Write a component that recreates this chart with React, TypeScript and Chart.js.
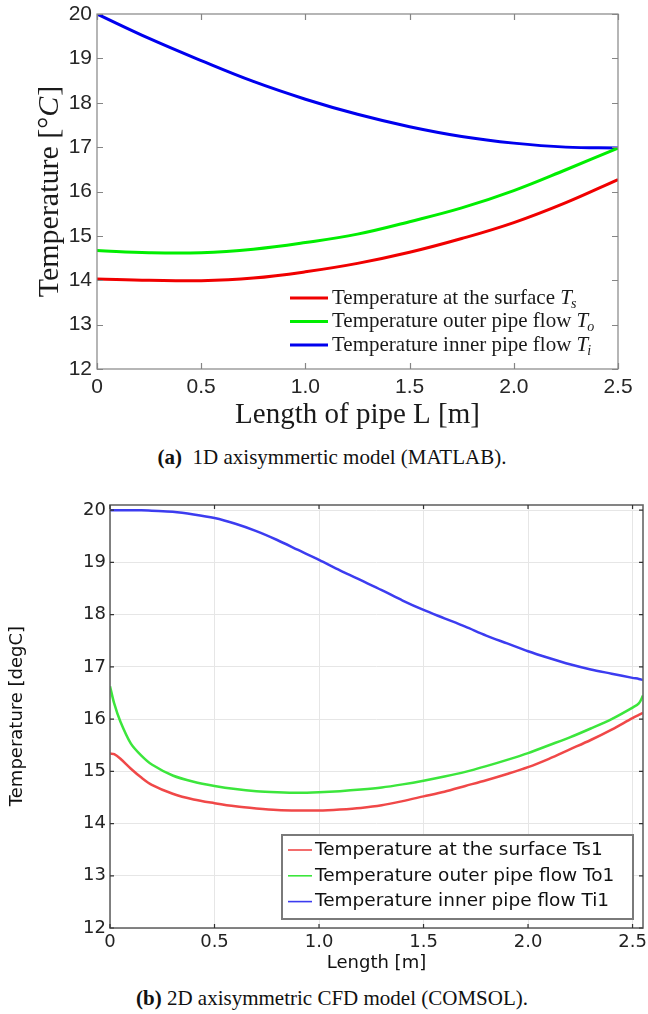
import React, { useEffect, useRef } from 'react';
import { Chart, registerables } from 'chart.js';
Chart.register(...registerables);

// ---------- Data: (a) 1D axisymmetric model (MATLAB) ----------
const xA = [0, 0.25, 0.5, 0.75, 1.0, 1.25, 1.5, 1.75, 2.0, 2.25, 2.5];
const surfaceA = [14.03, 14.0, 13.99, 14.05, 14.19, 14.38, 14.63, 14.94, 15.3, 15.75, 16.27];
const outerA = [14.67, 14.62, 14.62, 14.7, 14.85, 15.04, 15.32, 15.63, 16.02, 16.49, 16.98];
const innerA = [20, 19.45, 18.95, 18.48, 18.08, 17.74, 17.46, 17.24, 17.09, 17.0, 16.98];
const labelsA = ['Temperature at the surface', 'Temperature outer pipe flow', 'Temperature inner pipe flow'];
const subsA = ['s', 'o', 'i'];

// ---------- Data: (b) 2D axisymmetric CFD model (COMSOL) ----------
const xB = [0, 0.02, 0.05, 0.1, 0.15, 0.2, 0.3, 0.4, 0.5, 0.6, 0.7, 0.8, 0.9, 1.0, 1.1, 1.2, 1.3, 1.4, 1.5, 1.6, 1.7, 1.8, 1.9, 2.0, 2.1, 2.2, 2.3, 2.4, 2.5, 2.53, 2.55];
const surfaceB = [15.34, 15.33, 15.24, 15.05, 14.88, 14.74, 14.57, 14.46, 14.39, 14.33, 14.29, 14.26, 14.25, 14.25, 14.27, 14.3, 14.35, 14.43, 14.52, 14.61, 14.72, 14.83, 14.95, 15.08, 15.24, 15.42, 15.6, 15.8, 16.02, 16.08, 16.12];
const outerB = [16.63, 16.3, 15.95, 15.53, 15.3, 15.13, 14.92, 14.8, 14.72, 14.66, 14.62, 14.6, 14.59, 14.6, 14.62, 14.65, 14.69, 14.75, 14.82, 14.9, 14.99, 15.1, 15.22, 15.35, 15.5, 15.65, 15.82, 16.0, 16.22, 16.3, 16.45];
const innerB = [20, 20, 20, 20, 20, 19.99, 19.97, 19.92, 19.85, 19.74, 19.6, 19.43, 19.24, 19.05, 18.85, 18.66, 18.47, 18.27, 18.09, 17.93, 17.77, 17.6, 17.45, 17.3, 17.17, 17.05, 16.95, 16.87, 16.79, 16.77, 16.75];
const labelsB = ['Temperature at the surface Ts1', 'Temperature outer pipe flow To1', 'Temperature inner pipe flow Ti1'];

const toXY = (xs: number[], ys: number[]) => xs.map((x, i) => ({ x, y: ys[i] }));

const SANS_A = "'Liberation Sans Narrow', 'Liberation Sans', Arial, sans-serif";
const SERIF = "'Liberation Serif', 'Times New Roman', serif";
const SANS_B = "'DejaVu Sans', Verdana, sans-serif";

const decorA = {
  id: 'decorA',
  afterDatasetsDraw(chart: any) {
    const { ctx, chartArea: a, scales } = chart;
    const xs = scales.x, ys = scales.y;
    ctx.save();
    ctx.strokeStyle = '#858585';
    ctx.lineWidth = 1.2;
    ctx.strokeRect(a.left, a.top, a.right - a.left, a.bottom - a.top);
    const tl = 6;
    ctx.beginPath();
    xs.ticks.forEach((t: any) => {
      const p = Math.round(xs.getPixelForValue(t.value)) + 0.5;
      ctx.moveTo(p, a.bottom); ctx.lineTo(p, a.bottom - tl);
      ctx.moveTo(p, a.top); ctx.lineTo(p, a.top + tl);
    });
    ys.ticks.forEach((t: any) => {
      const p = Math.round(ys.getPixelForValue(t.value)) + 0.5;
      ctx.moveTo(a.left, p); ctx.lineTo(a.left + tl, p);
      ctx.moveTo(a.right, p); ctx.lineTo(a.right - tl, p);
    });
    ctx.stroke();

    // legend
    const ds = chart.data.datasets;
    const lx0 = a.left + 193, lx1 = a.left + 231, tx = a.left + 235;
    ds.forEach((d: any, i: number) => {
      const base = a.bottom - 65.5 + i * 23.5;
      ctx.strokeStyle = d.borderColor;
      ctx.lineWidth = 3;
      ctx.beginPath();
      ctx.moveTo(lx0, base - 5.5); ctx.lineTo(lx1, base - 5.5);
      ctx.stroke();
      ctx.fillStyle = '#1a1a1a';
      ctx.textBaseline = 'alphabetic';
      ctx.textAlign = 'left';
      ctx.font = `21px ${SERIF}`;
      const txt = labelsA[i] + ' ';
      ctx.fillText(txt, tx, base);
      const w = ctx.measureText(txt).width;
      ctx.font = `italic 21px ${SERIF}`;
      ctx.fillText('T', tx + w, base);
      const w2 = ctx.measureText('T').width;
      ctx.font = `italic 14px ${SERIF}`;
      ctx.fillText(subsA[i], tx + w + w2 - 1, base + 4);
    });

    // axis titles
    ctx.fillStyle = '#1a1a1a';
    ctx.font = `29px ${SERIF}`;
    ctx.textAlign = 'center';
    ctx.fillText('Length of pipe L [m]', (a.left + a.right) / 2, 423);

    ctx.save();
    ctx.translate(58, 192);
    ctx.rotate(-Math.PI / 2);
    ctx.font = `30px ${SERIF}`;
    const p1 = 'Temperature [°';
    const wp1 = ctx.measureText(p1).width;
    ctx.font = `italic 30px ${SERIF}`;
    const wc = ctx.measureText('C').width;
    ctx.font = `30px ${SERIF}`;
    const wb = ctx.measureText(']').width;
    const tot = wp1 + wc + wb;
    let cx = -tot / 2;
    ctx.textAlign = 'left';
    ctx.fillText(p1, cx, 0); cx += wp1;
    ctx.font = `italic 30px ${SERIF}`;
    ctx.fillText('C', cx, 0); cx += wc;
    ctx.font = `30px ${SERIF}`;
    ctx.fillText(']', cx + 1, 0);
    ctx.restore();
    ctx.restore();
  },
};

const decorB = {
  id: 'decorB',
  afterDatasetsDraw(chart: any) {
    const { ctx, chartArea: a, scales } = chart;
    const xs = scales.x, ys = scales.y;
    ctx.save();
    ctx.strokeStyle = '#666666';
    ctx.lineWidth = 1.6;
    ctx.strokeRect(a.left, a.top, a.right - a.left, a.bottom - a.top);
    const tl = 4;
    ctx.strokeStyle = '#333';
    ctx.lineWidth = 1.2;
    ctx.beginPath();
    xs.ticks.forEach((t: any) => {
      const p = xs.getPixelForValue(t.value);
      ctx.moveTo(p, a.bottom); ctx.lineTo(p, a.bottom - tl);
      ctx.moveTo(p, a.top); ctx.lineTo(p, a.top + tl);
    });
    ys.ticks.forEach((t: any) => {
      const p = ys.getPixelForValue(t.value);
      ctx.moveTo(a.left, p); ctx.lineTo(a.left + tl, p);
      ctx.moveTo(a.right, p); ctx.lineTo(a.right - tl, p);
    });
    ctx.stroke();

    // legend box
    const bx = 282, by = 355, bw = 351, bh = 84;
    ctx.fillStyle = '#ffffff';
    ctx.fillRect(bx, by, bw, bh);
    ctx.strokeStyle = '#7a7a7a';
    ctx.lineWidth = 2;
    ctx.strokeRect(bx, by, bw, bh);
    const ds = chart.data.datasets;
    ds.forEach((d: any, i: number) => {
      const cy = 370 + i * 25.8;
      ctx.strokeStyle = d.borderColor;
      ctx.lineWidth = 1.6;
      ctx.beginPath();
      ctx.moveTo(288, cy); ctx.lineTo(312, cy);
      ctx.stroke();
      ctx.fillStyle = '#111';
      ctx.font = `18.5px ${SANS_B}`;
      ctx.textAlign = 'left';
      ctx.textBaseline = 'middle';
      ctx.fillText(labelsB[i], 315, cy);
    });

    // axis titles
    ctx.fillStyle = '#111';
    ctx.font = `18px ${SANS_B}`;
    ctx.textAlign = 'center';
    ctx.textBaseline = 'alphabetic';
    ctx.fillText('Length [m]', (a.left + a.right) / 2, 488);
    ctx.save();
    ctx.translate(22, 236);
    ctx.rotate(-Math.PI / 2);
    ctx.fillText('Temperature [degC]', 0, 0);
    ctx.restore();
    ctx.restore();
  },
};

function ChartA() {
  const ref = useRef<HTMLCanvasElement>(null);
  useEffect(() => {
    const chart = new Chart(ref.current as HTMLCanvasElement, {
      type: 'line',
      data: {
        datasets: [
          { label: labelsA[0], data: toXY(xA, surfaceA), borderColor: '#f00000', borderWidth: 3, pointRadius: 0, tension: 0.4 },
          { label: labelsA[1], data: toXY(xA, outerA), borderColor: '#00ee00', borderWidth: 3, pointRadius: 0, tension: 0.4 },
          { label: labelsA[2], data: toXY(xA, innerA), borderColor: '#0000ee', borderWidth: 3, pointRadius: 0, tension: 0.4 },
        ] as any,
      },
      options: {
        animation: false,
        responsive: false,
        devicePixelRatio: 1,
        layout: { padding: { left: 0, top: 14, right: 30, bottom: 0 } },
        plugins: { legend: { display: false }, tooltip: { enabled: false } },
        scales: {
          x: {
            type: 'linear', min: 0, max: 2.5,
            ticks: { stepSize: 0.5, padding: 6, color: '#262626', font: { family: SANS_A, size: 21 }, maxRotation: 0, autoSkip: false, includeBounds: false },
            grid: { display: false, drawTicks: false },
            border: { display: false },
            afterFit: (s: any) => { s.height = 71; s.paddingLeft = 0; s.paddingRight = 0; },
          },
          y: {
            type: 'linear', min: 12, max: 20,
            ticks: { stepSize: 1, padding: 5, color: '#262626', font: { family: SANS_A, size: 21 }, includeBounds: false },
            grid: { display: false, drawTicks: false },
            border: { display: false },
            afterFit: (s: any) => { s.width = 97; s.paddingTop = 0; s.paddingBottom = 0; },
          },
        },
      } as any,
      plugins: [decorA],
    });
    return () => chart.destroy();
  }, []);
  return <canvas ref={ref} width={648} height={440} style={{ position: 'absolute', left: 0, top: 0, width: 648, height: 440 }} />;
}

function ChartB() {
  const ref = useRef<HTMLCanvasElement>(null);
  useEffect(() => {
    const chart = new Chart(ref.current as HTMLCanvasElement, {
      type: 'line',
      data: {
        datasets: [
          { label: labelsB[0], data: toXY(xB, surfaceB), borderColor: '#f04848', borderWidth: 2.5, pointRadius: 0, tension: 0.3 },
          { label: labelsB[1], data: toXY(xB, outerB), borderColor: '#3ce63c', borderWidth: 2.5, pointRadius: 0, tension: 0.3 },
          { label: labelsB[2], data: toXY(xB, innerB), borderColor: '#3c3cf0', borderWidth: 2.5, pointRadius: 0, tension: 0.3 },
        ] as any,
      },
      options: {
        animation: false,
        responsive: false,
        devicePixelRatio: 1,
        layout: { padding: { left: 0, top: 25, right: 5, bottom: 0 } },
        plugins: { legend: { display: false }, tooltip: { enabled: false } },
        scales: {
          x: {
            type: 'linear', min: 0, max: 2.55,
            ticks: { stepSize: 0.5, padding: 4, color: '#222', font: { family: SANS_B, size: 18 }, maxRotation: 0, autoSkip: false, includeBounds: false },
            grid: { display: true, drawTicks: false, color: '#e6e6e6', lineWidth: 1 },
            border: { display: false },
            afterFit: (s: any) => { s.height = 52; s.paddingLeft = 0; s.paddingRight = 0; },
          },
          y: {
            type: 'linear', min: 12, max: 20.1,
            ticks: { stepSize: 1, padding: 4, color: '#222', font: { family: SANS_B, size: 18 }, includeBounds: false },
            grid: { display: true, drawTicks: false, color: '#e6e6e6', lineWidth: 1 },
            border: { display: false },
            afterFit: (s: any) => { s.width = 110; s.paddingTop = 0; s.paddingBottom = 0; },
          },
        },
      } as any,
      plugins: [decorB],
    });
    return () => chart.destroy();
  }, []);
  return <canvas ref={ref} width={648} height={500} style={{ position: 'absolute', left: 0, top: 480, width: 648, height: 500 }} />;
}

export default function App() {
  const cap: React.CSSProperties = {
    position: 'absolute', left: 8, width: 648, textAlign: 'center',
    fontFamily: SERIF, fontSize: 21, lineHeight: '24px', color: '#111',
  };
  return (
    <div style={{ position: 'absolute', left: 0, top: 0, width: 648, height: 1014, background: '#fff', overflow: 'hidden' }}>
      <ChartA />
      <div style={{ ...cap, top: 445 }}><b>(a)</b>&nbsp;&nbsp;1D axisymmertic model (MATLAB).</div>
      <ChartB />
      <div style={{ ...cap, top: 986 }}><b>(b)</b> 2D axisymmetric CFD model (COMSOL).</div>
    </div>
  );
}
